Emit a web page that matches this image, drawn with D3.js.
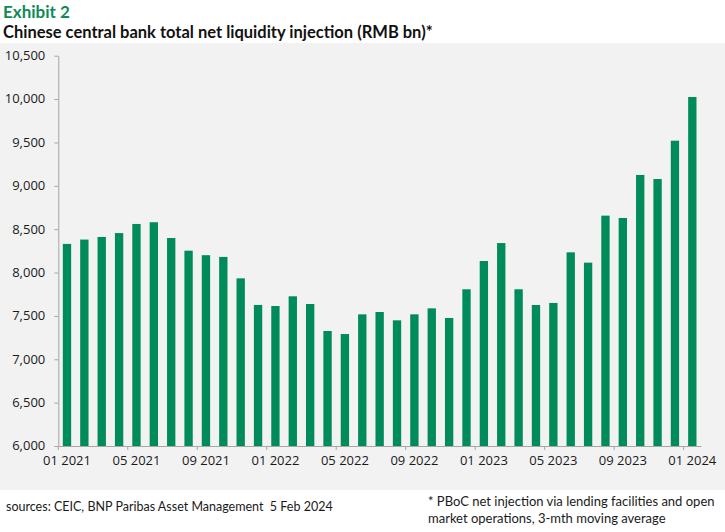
<!DOCTYPE html>
<html>
<head>
<meta charset="utf-8">
<script src="https://cdn.jsdelivr.net/npm/d3@7"></script>
<style>
   body { margin: 0; background: #ffffff; }
   .title { font-family: Lato, sans-serif; font-weight: bold; }
   .note { font-family: Lato, sans-serif; font-size: 13px; fill: #1a1a1a; }
   .axis text { font-family: "Open Sans", sans-serif; font-size: 13px; fill: #1a1a1a; }
   .axis path, .axis line { stroke: #a6a6a6; }
</style>
</head>
<body>
<div class="chart"></div>
<script>
// months from 01 2021 to 01 2024, three-month moving average, RMB bn
const months = [
   '01 2021', '02 2021', '03 2021', '04 2021', '05 2021', '06 2021',
   '07 2021', '08 2021', '09 2021', '10 2021', '11 2021', '12 2021',
   '01 2022', '02 2022', '03 2022', '04 2022', '05 2022', '06 2022',
   '07 2022', '08 2022', '09 2022', '10 2022', '11 2022', '12 2022',
   '01 2023', '02 2023', '03 2023', '04 2023', '05 2023', '06 2023',
   '07 2023', '08 2023', '09 2023', '10 2023', '11 2023', '12 2023',
   '01 2024'
];
const injection = [
   8330, 8380, 8410, 8455, 8560, 8580,
   8398, 8252, 8200, 8180, 7933, 7626,
   7614, 7726, 7637, 7326, 7291, 7518,
   7545, 7449, 7518, 7587, 7476, 7807,
   8133, 8340, 7807, 7626, 7649, 8233,
   8114, 8656, 8629, 9125, 9078, 9520,
   10024
];
const y_ticks = [6000, 6500, 7000, 7500, 8000, 8500, 9000, 9500, 10000, 10500];
const x_labels = ['01 2021', '05 2021', '09 2021', '01 2022', '05 2022', '09 2022', '01 2023', '05 2023', '09 2023', '01 2024'];

const exhibit_title = 'Exhibit 2';
const chart_title = 'Chinese central bank total net liquidity injection (RMB bn)*';
const source_note = 'sources: CEIC, BNP Paribas Asset Management\u00a0 5 Feb 2024';
const star_note = ['* PBoC net injection via lending facilities and open', 'market operations, 3-mth moving average'];

function chart_main() {
   const W = 725, H = 532;
   const plot = {left: 58.3, right: 701, top: 55.7, bottom: 446};

   const svg = d3.select('.chart')
      .append('svg')
      .attr('width', W)
      .attr('height', H);

   // grey panel behind the plot
   svg.append('rect')
      .attr('x', 0).attr('y', 43)
      .attr('width', W).attr('height', 447)
      .style('fill', '#f2f2f2');

   svg.append('text').attr('class', 'title')
      .attr('x', 3).attr('y', 18)
      .style('font-size', '17px')
      .style('fill', '#0f8a56')
      .text(exhibit_title);

   svg.append('text').attr('class', 'title')
      .attr('x', 3).attr('y', 38)
      .style('font-size', '16.5px')
      .style('fill', '#111')
      .text(chart_title);

   const x = d3.scaleBand()
      .domain(months)
      .range([plot.left, plot.right])
      .paddingInner(0.52)
      .paddingOuter(0.26);

   const y = d3.scaleLinear()
      .domain([6000, 10500])
      .range([plot.bottom, plot.top]);

   // bars
   svg.append('g')
      .selectAll('rect')
      .data(months.map((m, i) => ({month: m, value: injection[i]})))
      .enter()
      .append('rect')
      .attr('x', d => x(d.month))
      .attr('width', x.bandwidth())
      .attr('y', d => y(d.value))
      .attr('height', d => y(6000) - y(d.value))
      .style('fill', '#008c5a');

   // y axis
   svg.append('g')
      .attr('class', 'axis')
      .attr('transform', `translate(${plot.left}, 0)`)
      .call(d3.axisLeft(y)
         .tickValues(y_ticks)
         .tickFormat(d3.format(','))
         .tickSizeInner(4)
         .tickSizeOuter(0)
         .tickPadding(9))
      .selectAll('text')
      .attr('dy', '0.3em');

   // x axis: labels at band centre, tick marks at band boundaries
   const x_axis = svg.append('g')
      .attr('class', 'axis')
      .attr('transform', `translate(0, ${plot.bottom})`)
      .call(d3.axisBottom(x)
         .tickValues(x_labels)
         .tickSize(0)
         .tickPadding(10));

   const gap = (x.step() - x.bandwidth()) / 2;
   x_axis.selectAll('.tick-mark')
      .data(x_labels)
      .enter()
      .append('line')
      .attr('class', 'tick-mark')
      .attr('x1', d => x(d) - gap)
      .attr('x2', d => x(d) - gap)
      .attr('y1', 0)
      .attr('y2', 4);

   svg.append('text').attr('class', 'note')
      .attr('x', 6).attr('y', 511)
      .style('font-size', '12.5px')
      .text(source_note);

   svg.append('g')
      .selectAll('text')
      .data(star_note)
      .enter()
      .append('text')
      .attr('class', 'note')
      .attr('x', 428)
      .attr('y', (d, i) => 506 + i * 17)
      .text(d => d);
}

chart_main();
</script>
</body>
</html>
